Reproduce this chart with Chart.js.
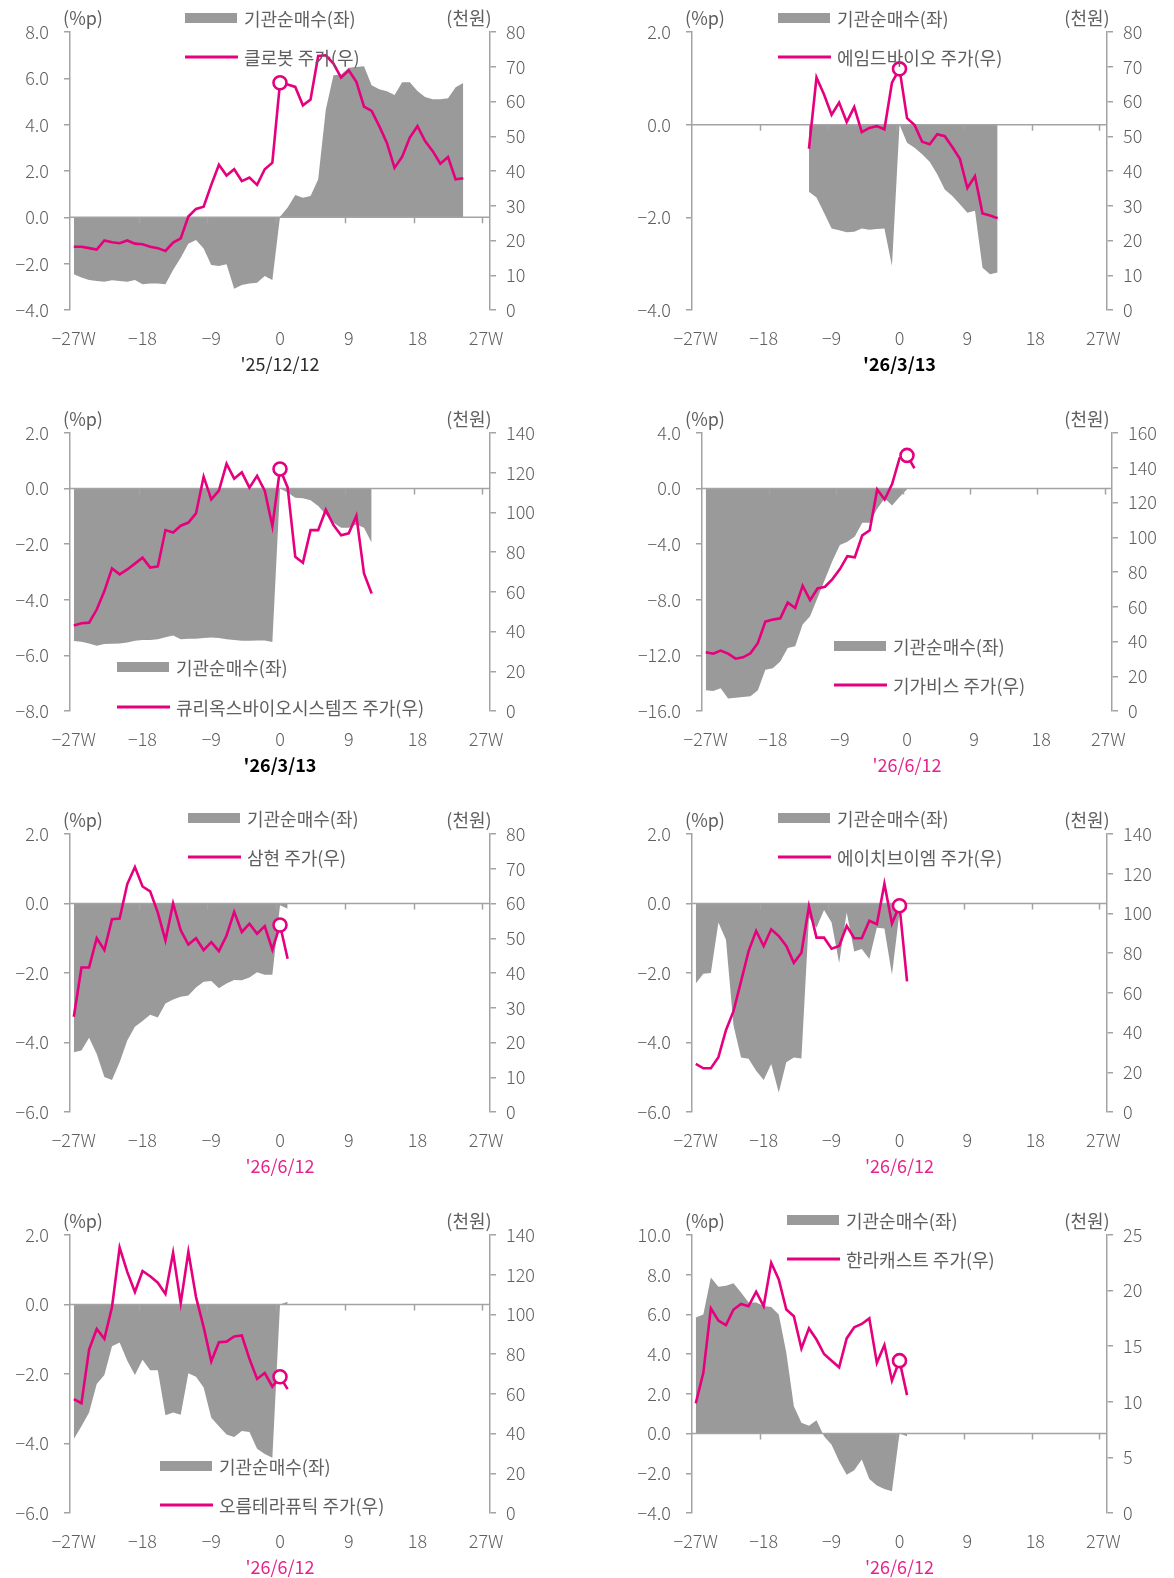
<!DOCTYPE html>
<html>
<head>
<meta charset="utf-8">
<script src="https://cdn.jsdelivr.net/npm/chart.js@4.4.1/dist/chart.umd.min.js"></script>
<style>
    body { margin: 0; background: #fff; }
    #page { position: relative; width: 1174px; height: 1578px; overflow: hidden; font-family: 'Noto Sans CJK KR', 'Noto Sans', sans-serif; }
    .panel { position: absolute; width: 587px; height: 380px; }
    .panel canvas { position: absolute; left: 0; top: 0; }
    .txt { position: absolute; font-size: 18px; line-height: 1; color: #5f5f5f; white-space: nowrap; transform: translateY(-50%); }
    .mid { transform: translate(-50%, -50%); }
    .swatch { position: absolute; width: 52px; height: 10px; background: #9a9a9a; transform: translateY(-50%); }
    .swline { position: absolute; width: 53px; height: 3px; background: #e6007e; transform: translateY(-50%); }
</style>
</head>
<body>
<div id="page"></div>
<script>
// Weekly institutional net buying (%p, left) and share price (천원, right), weeks around the event date

const weeks = [-27,-26,-25,-24,-23,-22,-21,-20,-19,-18,-17,-16,-15,-14,-13,-12,-11,-10,-9,-8,-7,-6,-5,-4,-3,-2,-1,
    0,1,2,3,4,5,6,7,8,9,10,11,12,13,14,15,16,17,18,19,20,21,22,23,24,25,26,27];
const xTickWeeks = [-27, -18, -9, 0, 9, 18, 27];
const xTickLabels = ['−27W', '−18', '−9', '0', '9', '18', '27W'];

const flowLabel = '기관순매수(좌)';
const priceLabels = ['클로봇 주가(우)', '에임드바이오 주가(우)', '큐리옥스바이오시스템즈 주가(우)', '기가비스 주가(우)',
    '삼현 주가(우)', '에이치브이엠 주가(우)', '오름테라퓨틱 주가(우)', '한라캐스트 주가(우)'];
const dateLabels = ["'25/12/12", "'26/3/13", "'26/3/13", "'26/6/12", "'26/6/12", "'26/6/12", "'26/6/12", "'26/6/12"];

// first week of each series
const flowStart = [-27, -12, -27, -27, -27, -27, -27, -27];
const priceStart = [-27, -12, -27, -27, -27, -27, -27, -27];

const flow1 = [-2.46,-2.6,-2.7,-2.75,-2.78,-2.72,-2.75,-2.78,-2.7,-2.89,-2.86,-2.86,-2.89,-2.27,-1.74,-1.14,-0.98,-1.34,-2.06,-2.1,-2.03,-3.08,-2.92,-2.86,-2.82,-2.53,-2.7,
    0.03,0.42,0.96,0.85,0.92,1.64,4.66,6.13,6.17,6.46,6.49,6.52,5.7,5.53,5.44,5.28,5.83,5.83,5.45,5.19,5.1,5.1,5.14,5.61,5.8];
const price1 = [18.2,18.2,17.8,17.4,20.0,19.5,19.2,20.0,19.1,18.9,18.2,17.8,17.0,19.4,20.6,26.9,29.1,29.7,36.0,41.8,38.7,40.5,37.1,38.1,36.0,40.5,42.4,
    65.4,64.9,64.2,58.9,60.6,73.1,73.3,70.9,66.9,69.0,65.7,58.5,57.3,52.9,48.1,40.9,44.1,49.6,52.9,48.6,45.7,42.1,44.0,37.6,37.9];

const flow2 = [-1.45,-1.57,-1.9,-2.24,-2.28,-2.32,-2.31,-2.24,-2.27,-2.25,-2.24,-3.05,
    0,-0.39,-0.5,-0.64,-0.8,-1.07,-1.4,-1.54,-1.72,-1.9,-1.86,-3.09,-3.23,-3.19];
const price2 = [46.4,66.9,62.0,56.2,59.7,54.1,58.4,51.2,52.4,52.9,52.0,65.4,
    69.4,55.2,53.2,48.4,47.7,50.6,50.0,46.9,43.5,35.1,38.5,27.8,27.2,26.4];

const flow3 = [-5.48,-5.51,-5.57,-5.65,-5.59,-5.58,-5.57,-5.54,-5.47,-5.45,-5.45,-5.42,-5.35,-5.28,-5.42,-5.4,-5.4,-5.37,-5.36,-5.37,-5.42,-5.45,-5.47,-5.47,-5.46,-5.46,-5.52,
    0,-0.14,-0.33,-0.35,-0.42,-0.63,-0.93,-1.23,-1.41,-1.41,-1.29,-1.41,-1.95];
const price3 = [43.0,44.2,44.5,51.1,60.4,71.8,68.8,71.3,74.2,77.2,72.2,72.8,91.1,89.9,93.3,94.9,99.5,118.0,106.6,111.0,124.5,117.0,120.2,112.5,118.4,111.0,93.1,
    121.9,112.6,77.6,74.7,91.1,91.1,101.3,93.6,88.5,89.5,98.3,69.3,59.2];

const flow4 = [-14.5,-14.57,-14.37,-15.1,-15.05,-15.0,-14.93,-14.5,-13.04,-12.92,-12.44,-11.47,-11.35,-9.78,-9.18,-7.85,-6.52,-5.19,-4.06,-3.82,-3.45,-2.46,-2.46,-1.45,-0.72,-1.21,-0.6,
    -0.05];
const price4 = [33.8,33.0,34.8,33.0,30.1,30.9,33.2,39.2,51.4,52.6,53.3,62.4,59.3,72.1,63.8,70.5,71.5,75.9,81.7,89.1,88.5,101.1,104.0,127.5,121.7,130.6,145.5,
    147.1,139.7];

const flow5 = [-4.28,-4.23,-3.86,-4.33,-4.99,-5.08,-4.57,-3.94,-3.55,-3.38,-3.2,-3.28,-2.88,-2.76,-2.68,-2.65,-2.42,-2.25,-2.23,-2.44,-2.3,-2.2,-2.21,-2.13,-1.98,-2.05,-2.05,
    -0.05,-0.15];
const price5 = [27.4,41.6,41.6,50.0,46.6,55.5,55.7,65.6,70.5,64.9,63.5,57.4,49.4,60.0,52.3,48.2,50.0,46.6,48.9,46.3,50.8,57.6,51.8,54.2,51.3,53.5,46.7,
    53.8,44.1];

const flow6 = [-2.3,-2.02,-2.0,-0.55,-1.04,-3.51,-4.43,-4.47,-4.81,-5.08,-4.62,-5.44,-4.57,-4.43,-4.46,-0.4,-0.7,-0.19,-0.55,-1.71,-0.26,-1.38,-1.31,-1.6,-0.7,-0.72,-2.05,
    -0.25,-0.15];
const price6 = [24.2,22.0,22.0,27.6,41.2,50.8,65.8,81.0,91.2,83.6,92.0,88.6,83.6,75.1,80.2,103.6,87.8,87.8,82.2,83.6,93.7,87.5,87.5,96.3,94.6,114.9,94.9,
    103.9,65.8];

const flow7 = [-3.87,-3.5,-3.11,-2.29,-2.03,-1.2,-1.09,-1.62,-2.03,-1.59,-1.89,-1.89,-3.19,-3.11,-3.17,-1.98,-2.08,-2.39,-3.26,-3.5,-3.74,-3.81,-3.64,-3.67,-4.15,-4.3,-4.41,
    0,0.08];
const price7 = [57.3,55.3,82.3,92.7,87.7,103.7,133.7,121.4,111.3,121.9,119.2,116.0,110.3,131.0,105.7,131.5,108.8,93.6,76.4,86.0,86.3,88.9,89.4,77.6,67.5,70.5,63.6,
    68.6,62.4];

const flow8 = [5.84,6.0,7.86,7.39,7.44,7.57,7.1,6.6,6.6,6.43,6.38,6.0,4.07,1.38,0.54,0.4,0.67,-0.13,-0.56,-1.4,-2.07,-1.85,-1.31,-2.29,-2.62,-2.79,-2.91,
    0,-0.13];
const price8 = [9.86,12.6,18.4,17.3,16.9,18.3,18.8,18.6,19.9,18.6,22.5,21.0,18.3,17.7,14.8,16.6,15.6,14.3,13.7,13.1,15.7,16.7,17.0,17.5,13.5,15.1,11.9,
    13.7,10.6];

const flows = [flow1, flow2, flow3, flow4, flow5, flow6, flow7, flow8];
const prices = [price1, price2, price3, price4, price5, price6, price7, price8];

// axis ranges: [min, max, step]
const leftRanges = [[-4, 8, 2], [-4, 2, 2], [-8, 2, 2], [-16, 4, 4], [-6, 2, 2], [-6, 2, 2], [-6, 2, 2], [-4, 10, 2]];
const rightRanges = [[0, 80, 10], [0, 80, 10], [0, 140, 20], [0, 160, 20], [0, 80, 10], [0, 140, 20], [0, 140, 20], [0, 25, 5]];

// layout (px inside each panel)
const W = 587, H = 380, TOP = 32, BOTTOM = 310;
const rowTops = [0, 401, 802, 1203];
const layout = [
    { col: 0, row: 0, L: 70, R: 490, boxX: 185, boxY: 18, lineY: 57, pU: 83, wU: 469, date: 'dark' },
    { col: 1, row: 0, L: 105, R: 520, boxX: 191, boxY: 18, lineY: 57, pU: 118, wU: 500, date: 'bold' },
    { col: 0, row: 1, L: 70, R: 490, boxX: 117, boxY: 266, lineY: 306, pU: 83, wU: 469, date: 'bold' },
    { col: 1, row: 1, L: 115, R: 525, boxX: 247, boxY: 245, lineY: 284, pU: 118, wU: 500, date: 'pink' },
    { col: 0, row: 2, L: 70, R: 490, boxX: 188, boxY: 16, lineY: 55, pU: 83, wU: 469, date: 'pink' },
    { col: 1, row: 2, L: 105, R: 520, boxX: 191, boxY: 16, lineY: 55, pU: 118, wU: 500, date: 'pink' },
    { col: 0, row: 3, L: 70, R: 490, boxX: 160, boxY: 263, lineY: 302, pU: 83, wU: 469, date: 'pink' },
    { col: 1, row: 3, L: 105, R: 520, boxX: 200, boxY: 17, lineY: 56, pU: 118, wU: 500, date: 'pink' }
];

const PINK = '#e6007e', AREA = '#9a9a9a', AXIS = '#a3a3a3', TEXT = '#5f5f5f';
const FONT = "'Noto Sans CJK KR', 'Noto Sans', sans-serif";
const zeroIdx = weeks.indexOf(0);

const pad = (arr, start) => weeks.map(w => {
    const v = arr[w - start];
    return v === undefined ? null : v;
});
const fmtLeft = v => (v < 0 ? '−' + Math.abs(v).toFixed(1) : v.toFixed(1));

// zero line with small ticks every 9 weeks, drawn right after the area
const zeroLine = {
    id: 'zeroLine',
    afterDatasetDraw(chart, args) {
        if (!chart.data.datasets[args.index].isArea) return;
        const { ctx, chartArea: a, scales: { x, y } } = chart;
        const y0 = y.getPixelForValue(0);
        const half = (x.getPixelForValue(1) - x.getPixelForValue(0)) / 2;
        ctx.save();
        ctx.strokeStyle = AXIS;
        ctx.lineWidth = 1.5;
        ctx.beginPath();
        ctx.moveTo(a.left, y0);
        ctx.lineTo(a.right, y0);
        xTickWeeks.slice(1).forEach(w => {
            const px = Math.round(x.getPixelForValue(weeks.indexOf(w)) - half) + 0.5;
            ctx.moveTo(px, y0);
            ctx.lineTo(px, y0 + 6);
        });
        ctx.stroke();
        ctx.restore();
    }
};

function addText(parent, text, x, y, cls, style) {
    const el = document.createElement('span');
    el.className = 'txt' + (cls ? ' ' + cls : '');
    el.textContent = text;
    el.style.left = x + 'px';
    el.style.top = y + 'px';
    if (style) Object.assign(el.style, style);
    parent.appendChild(el);
    return el;
}

function renderPanel(i) {
    const lay = layout[i];
    const page = document.getElementById('page');
    const box = document.createElement('div');
    box.className = 'panel';
    box.style.left = lay.col * W + 'px';
    box.style.top = rowTops[lay.row] + 'px';
    const cv = document.createElement('canvas');
    cv.width = W;
    cv.height = H;
    box.appendChild(cv);
    page.appendChild(box);

    const [lMin, lMax, lStep] = leftRanges[i];
    const [rMin, rMax, rStep] = rightRanges[i];
    const tickFont = { family: FONT, size: 18, weight: '300' };
    const axisGrid = { drawOnChartArea: false, color: AXIS, lineWidth: 1.5, tickLength: 6 };

    const chart = new Chart(cv.getContext('2d'), {
        type: 'line',
        data: {
            labels: weeks,
            datasets: [
                {
                    label: priceLabels[i], data: pad(prices[i], priceStart[i]), yAxisID: 'y1', order: 1,
                    borderColor: PINK, borderWidth: 2.6, tension: 0, spanGaps: false, fill: false,
                    pointRadius: c => (c.dataIndex === zeroIdx ? 6.5 : 0),
                    pointBackgroundColor: '#fff', pointBorderColor: PINK, pointBorderWidth: 2.6
                },
                {
                    label: flowLabel, data: pad(flows[i], flowStart[i]), yAxisID: 'y', order: 2, isArea: true,
                    borderWidth: 0, borderColor: AREA, backgroundColor: AREA, fill: 'origin',
                    pointRadius: 0, tension: 0, spanGaps: false
                }
            ]
        },
        options: {
            responsive: false,
            animation: false,
            events: [],
            layout: { padding: { top: TOP, left: 0, right: 0, bottom: 0 } },
            plugins: { legend: { display: false }, tooltip: { enabled: false } },
            scales: {
                x: {
                    type: 'category', offset: true,
                    grid: { display: false, drawTicks: false }, border: { display: false },
                    ticks: {
                        autoSkip: false, maxRotation: 0, minRotation: 0, padding: 17,
                        color: TEXT, font: tickFont,
                        callback: (v, idx) => {
                            const k = xTickWeeks.indexOf(weeks[idx]);
                            return k >= 0 ? xTickLabels[k] : null;
                        }
                    },
                    afterFit: s => { s.height = H - BOTTOM; }
                },
                y: {
                    position: 'left', min: lMin, max: lMax,
                    grid: axisGrid, border: { color: AXIS, width: 1.5 },
                    ticks: { stepSize: lStep, padding: 15, color: TEXT, font: tickFont, callback: v => fmtLeft(v) },
                    afterFit: s => { s.width = lay.L; }
                },
                y1: {
                    position: 'right', min: rMin, max: rMax,
                    grid: axisGrid, border: { color: AXIS, width: 1.5 },
                    ticks: { stepSize: rStep, padding: 10, color: TEXT, font: tickFont, callback: v => String(v) },
                    afterFit: s => { s.width = W - lay.R; }
                }
            }
        },
        plugins: [zeroLine]
    });

    // units
    addText(box, '(%p)', lay.pU, 17, 'mid');
    addText(box, '(천원)', lay.wU, 17, 'mid');

    // legend
    const sw = document.createElement('div');
    sw.className = 'swatch';
    sw.style.left = lay.boxX + 'px';
    sw.style.top = lay.boxY + 'px';
    box.appendChild(sw);
    addText(box, flowLabel, lay.boxX + 59, lay.boxY);
    const ln = document.createElement('div');
    ln.className = 'swline';
    ln.style.left = lay.boxX + 'px';
    ln.style.top = lay.lineY + 'px';
    box.appendChild(ln);
    addText(box, priceLabels[i], lay.boxX + 59, lay.lineY);

    // event date under week 0
    const dateStyles = {
        dark: { color: '#2b2b2b' },
        bold: { color: '#000', fontWeight: '700' },
        pink: { color: '#e5258c' }
    };
    addText(box, dateLabels[i], chart.scales.x.getPixelForValue(zeroIdx), 363, 'mid', dateStyles[lay.date]);
}

for (let i = 0; i < 8; i++) renderPanel(i);
</script>
</body>
</html>
